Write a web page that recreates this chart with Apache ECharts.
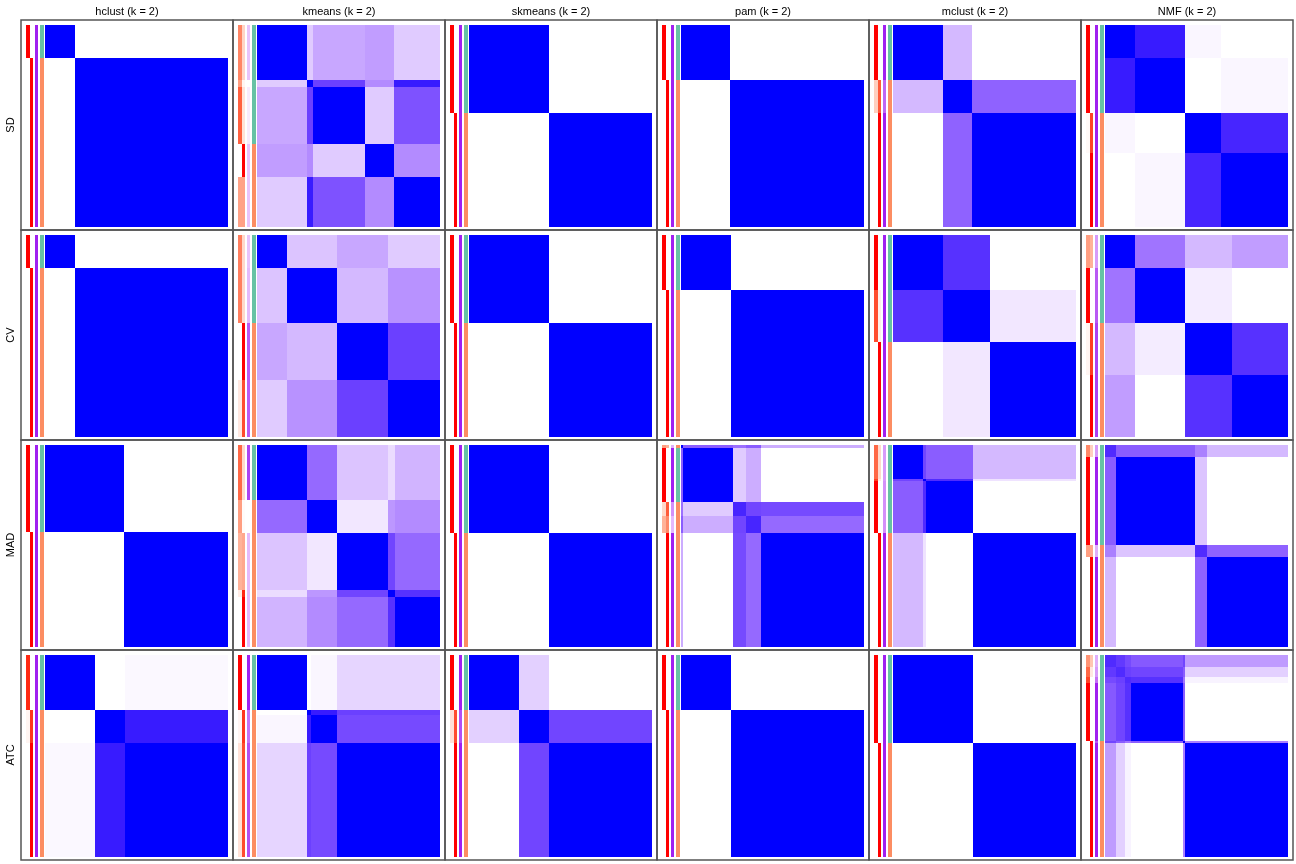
<!DOCTYPE html>
<html>
<head>
<meta charset="utf-8">
<title>consensus heatmaps</title>
<script src="https://cdn.jsdelivr.net/npm/echarts@6/dist/echarts.min.js"></script>
</head>
<body style="margin:0;background:#fff">
<div id="main" style="width:1296px;height:864px;"></div>
<script type="text/javascript">
// column / row headers
var methods = ['hclust', 'kmeans', 'skmeans', 'pam', 'mclust', 'NMF'];
var topValueMethods = ['SD', 'CV', 'MAD', 'ATC'];
var k = 2;

// block boundaries along the ordered samples (0-100), [row][col]
var breaks = [
  [[0, 16.2, 100], [0, 27.2, 30.5, 58.9, 75.1, 100], [0, 43.6, 100], [0, 27, 100], [0, 27.2, 43.4, 100], [0, 16.3, 43.7, 63.3, 100]],
  [[0, 16.3, 100], [0, 16.5, 43.6, 71.6, 100], [0, 43.6, 100], [0, 27.2, 100], [0, 27.3, 53, 100], [0, 16.5, 43.7, 69.4, 100]],
  [[0, 43.2, 100], [0, 27.2, 43.7, 71.8, 75.3, 100], [0, 43.7, 100], [0, 1.3, 28.2, 35.3, 43.5, 100], [0, 16.6, 17.9, 43.7, 100], [0, 5.9, 49.4, 55.5, 100]],
  [[0, 27.2, 43.5, 100], [0, 27.2, 29.5, 43.7, 100], [0, 27.2, 43.7, 100], [0, 27.2, 100], [0, 43.6, 100], [0, 5.9, 10.8, 14, 42.5, 43.7, 100]]
];

// consensus value between blocks
var consensus = [
  [
    [[1, 0], [0, 1]],
    [[1, 0.22, 0.38, 0.42, 0.22], [0.22, 1, 0.82, 0.5, 0.95], [0.38, 0.82, 1, 0.22, 0.75], [0.42, 0.5, 0.22, 1, 0.5], [0.22, 0.95, 0.75, 0.5, 1]],
    [[1, 0], [0, 1]],
    [[1, 0], [0, 1]],
    [[1, 0.3, 0], [0.3, 1, 0.68], [0, 0.68, 1]],
    [[1, 0.95, 0.04, 0], [0.95, 1, 0, 0.04], [0.04, 0, 1, 0.92], [0, 0.04, 0.92, 1]]
  ],
  [
    [[1, 0], [0, 1]],
    [[1, 0.25, 0.38, 0.22], [0.25, 1, 0.3, 0.47], [0.38, 0.3, 1, 0.82], [0.22, 0.47, 0.82, 1]],
    [[1, 0], [0, 1]],
    [[1, 0], [0, 1]],
    [[1, 0.88, 0], [0.88, 1, 0.1], [0, 0.1, 1]],
    [[1, 0.6, 0.3, 0.42], [0.6, 1, 0.08, 0], [0.3, 0.08, 1, 0.88], [0.42, 0, 0.88, 1]]
  ],
  [
    [[1, 0], [0, 1]],
    [[1, 0.65, 0.25, 0.15, 0.32], [0.65, 1, 0.1, 0.45, 0.5], [0.25, 0.1, 1, 0.8, 0.65], [0.15, 0.45, 0.8, 1, 0.88], [0.32, 0.5, 0.65, 0.88, 1]],
    [[1, 0], [0, 1]],
    [[1, 0.7, 0.62, 0.7, 0.35], [0.7, 1, 0.22, 0.35, 0], [0.62, 0.22, 0.92, 0.8, 0.78], [0.7, 0.35, 0.8, 0.92, 0.65], [0.35, 0, 0.78, 0.65, 1]],
    [[1, 0.8, 0.7, 0.3], [0.8, 1, 0.9, 0.12], [0.7, 0.9, 1, 0], [0.3, 0.12, 0, 1]],
    [[0.9, 0.7, 0.55, 0.3], [0.7, 1, 0.25, 0], [0.55, 0.25, 0.9, 0.68], [0.3, 0, 0.68, 1]]
  ],
  [
    [[1, 0, 0.03], [0, 1, 0.95], [0.03, 0.95, 1]],
    [[1, 0, 0.04, 0.18], [0, 1, 0.95, 0.82], [0.04, 0.95, 1, 0.78], [0.18, 0.82, 0.78, 1]],
    [[1, 0.2, 0], [0.2, 1, 0.8], [0, 0.8, 1]],
    [[1, 0], [0, 1]],
    [[1, 0], [0, 1]],
    [[0.9, 0.85, 0.78, 0.72, 0.8, 0.43], [0.85, 0.9, 0.82, 0.8, 0.7, 0.2], [0.78, 0.82, 0.9, 0.88, 0.6, 0.05],
     [0.72, 0.8, 0.88, 1, 0.7, 0], [0.8, 0.7, 0.6, 0.7, 1, 0.55], [0.43, 0.2, 0.05, 0, 0.55, 1]]
  ]
];

// membership probability of class 1 / class 2 per block
var prob1 = [
  [[1, 0], [0.62, 0.5, 0.78, 0, 0.48], [1, 0], [1, 0], [1, 0.25, 0], [1, 1, 0.03, 0]],
  [[1, 0], [0.65, 0.65, 0, 0.12], [1, 0], [1, 0], [1, 0.85, 0], [0.5, 1, 0.05, 0]],
  [[1, 0], [0.75, 0.5, 0.4, 0.1, 0], [1, 0], [0.5, 1, 0.2, 0.4, 0], [0.75, 0.9, 1, 0], [0.6, 1, 0.5, 0]],
  [[0.95, 0.05, 0], [1, 0.05, 0.05, 0.15], [1, 0.15, 0], [1, 0], [1, 0], [0.55, 0.75, 0.88, 1, 0, 0]]
];
var prob2 = [
  [[0, 1], [0.22, 0.05, 0.15, 1, 0.48], [0, 1], [0, 1], [0, 0.8, 1], [0, 0, 0.88, 1]],
  [[0, 1], [0.2, 0.2, 1, 0.85], [0, 1], [0, 1], [0, 0.08, 1], [0.4, 0, 0.9, 1]],
  [[0, 1], [0.2, 0.02, 0.45, 0.95, 1], [0, 1], [0.4, 0, 0.8, 0.6, 1], [0.2, 0.1, 0, 1], [0.25, 0, 0.45, 1]],
  [[0, 0.92, 1], [0, 0.92, 0.92, 0.85], [0, 0.85, 1], [0, 1], [0, 1], [0.3, 0.12, 0, 0, 1, 1]]
];
var silhouette = [
  [[1, 1], [0.3, 0, 0.1, 0.3, 0.3], [1, 1], [1, 1], [1, 0.75, 1], [1, 1, 1, 1]],
  [[1, 1], [0.3, 0.35, 0.8, 0.8], [1, 1], [1, 1], [1, 1, 1], [0.5, 0.8, 0.9, 0.9]],
  [[1, 1], [0.9, 0, 0.35, 0.35, 0.35], [1, 1], [0.4, 1, 0.55, 0.35, 1], [0.5, 0.5, 0.55, 1], [0.5, 1, 0.4, 1]],
  [[1, 1, 1], [1, 0.7, 0.7, 0.85], [1, 0.85, 1], [1, 1], [1, 1], [0.4, 0.5, 0.7, 1, 0.8, 1]]
];
var classes = [
  [[1, 2], [1, 1, 1, 2, 2], [1, 2], [1, 2], [1, 2, 2], [1, 1, 2, 2]],
  [[1, 2], [1, 1, 2, 2], [1, 2], [1, 2], [1, 1, 2], [1, 1, 2, 2]],
  [[1, 2], [1, 2, 2, 2, 2], [1, 2], [2, 1, 2, 2, 2], [1, 1, 1, 2], [1, 1, 2, 2]],
  [[1, 2, 2], [1, 2, 2, 2], [1, 2, 2], [1, 2], [1, 2], [1, 1, 1, 1, 2, 2]]
];

var classColors = ['#66C2A5', '#FC8D62'];

// white -> colour ramps interpolated in LAB space
function toLin(c) { c /= 255; return c <= 0.04045 ? c / 12.92 : Math.pow((c + 0.055) / 1.055, 2.4); }
function toS(c) {
  c = c <= 0.0031308 ? 12.92 * c : 1.055 * Math.pow(c, 1 / 2.4) - 0.055;
  return Math.max(0, Math.min(255, Math.round(c * 255)));
}
function hexToLab(hex) {
  var r = toLin(parseInt(hex.substr(1, 2), 16)), g = toLin(parseInt(hex.substr(3, 2), 16)), b = toLin(parseInt(hex.substr(5, 2), 16));
  var X = (0.4124 * r + 0.3576 * g + 0.1805 * b) / 0.95047;
  var Y = 0.2126 * r + 0.7152 * g + 0.0722 * b;
  var Z = (0.0193 * r + 0.1192 * g + 0.9505 * b) / 1.08883;
  function f(t) { return t > 0.008856 ? Math.cbrt(t) : 7.787 * t + 16 / 116; }
  var fx = f(X), fy = f(Y), fz = f(Z);
  return [116 * fy - 16, 500 * (fx - fy), 200 * (fy - fz)];
}
function labToRgb(L, a, b) {
  var fy = (L + 16) / 116, fx = fy + a / 500, fz = fy - b / 200;
  function finv(t) { var t3 = t * t * t; return t3 > 0.008856 ? t3 : (t - 16 / 116) / 7.787; }
  var X = 0.95047 * finv(fx), Y = finv(fy), Z = 1.08883 * finv(fz);
  var r = 3.2406 * X - 1.5372 * Y - 0.4986 * Z;
  var g = -0.9689 * X + 1.8758 * Y + 0.0415 * Z;
  var bb = 0.0557 * X - 0.2040 * Y + 1.0570 * Z;
  return 'rgb(' + toS(r) + ',' + toS(g) + ',' + toS(bb) + ')';
}
function ramp(hex) {
  var w = hexToLab('#FFFFFF'), c = hexToLab(hex);
  return function (t) {
    t = Math.max(0, Math.min(1, t));
    return labToRgb(w[0] + (c[0] - w[0]) * t, w[1] + (c[1] - w[1]) * t, w[2] + (c[2] - w[2]) * t);
  };
}
var blueCol = ramp('#0000FF');
var redCol = ramp('#FF0000');
var purpleCol = ramp('#A020F0');

// layout
var panelLeft = 21, panelTop = 20, panelW = 212, panelH = 210;
var annoCols = [[0, 4], [4, 7], [9, 12], [14, 18]];

function heatItem(params, api) {
  var p0 = api.coord([api.value(0), api.value(2)]);
  var p1 = api.coord([api.value(1), api.value(3)]);
  var x0 = Math.round(p0[0]), y0 = Math.round(p0[1]);
  return {
    type: 'rect',
    shape: { x: x0, y: y0, width: Math.round(p1[0]) - x0, height: Math.round(p1[1]) - y0 },
    style: { fill: blueCol(api.value(4)) }
  };
}
function annoItem(params, api) {
  var j = api.value(0), v = api.value(3);
  var p0 = api.coord([annoCols[j][0], api.value(1)]);
  var p1 = api.coord([annoCols[j][1], api.value(2)]);
  var fill = j < 2 ? redCol(v) : (j === 2 ? purpleCol(v) : classColors[v - 1]);
  var x0 = Math.round(p0[0]), y0 = Math.round(p0[1]);
  return {
    type: 'rect',
    shape: { x: x0, y: y0, width: Math.round(p1[0]) - x0, height: Math.round(p1[1]) - y0 },
    style: { fill: fill }
  };
}

var grids = [], xAxes = [], yAxes = [], series = [], graphics = [];
for (var r = 0; r < topValueMethods.length; r++) {
  for (var c = 0; c < methods.length; c++) {
    var L = panelLeft + c * panelW, T = panelTop + r * panelH;
    var gi = grids.length;
    grids.push({ left: L + 5, top: T + 5, width: 18, height: 202 });
    grids.push({ left: L + 24, top: T + 5, width: 183, height: 202 });
    xAxes.push({ gridIndex: gi, type: 'value', min: 0, max: 18, show: false });
    xAxes.push({ gridIndex: gi + 1, type: 'value', min: 0, max: 100, show: false });
    yAxes.push({ gridIndex: gi, type: 'value', min: 0, max: 100, inverse: true, show: false });
    yAxes.push({ gridIndex: gi + 1, type: 'value', min: 0, max: 100, inverse: true, show: false });

    var br = breaks[r][c], m = consensus[r][c];
    var heat = [], anno = [];
    for (var i = 0; i < br.length - 1; i++) {
      for (var j = 0; j < br.length - 1; j++) {
        heat.push([br[j], br[j + 1], br[i], br[i + 1], m[i][j]]);
      }
      anno.push([0, br[i], br[i + 1], prob1[r][c][i]]);
      anno.push([1, br[i], br[i + 1], prob2[r][c][i]]);
      anno.push([2, br[i], br[i + 1], silhouette[r][c][i]]);
      anno.push([3, br[i], br[i + 1], classes[r][c][i]]);
    }
    series.push({
      type: 'custom', xAxisIndex: gi, yAxisIndex: gi, silent: true,
      renderItem: annoItem, encode: { x: 0, y: [1, 2] }, data: anno
    });
    series.push({
      type: 'custom', xAxisIndex: gi + 1, yAxisIndex: gi + 1, silent: true,
      renderItem: heatItem, encode: { x: [0, 1], y: [2, 3] }, data: heat
    });
    graphics.push({
      type: 'rect', silent: true, z: 100,
      shape: { x: L, y: T, width: panelW, height: panelH },
      style: { fill: null, stroke: '#555', lineWidth: 1.5 }
    });
  }
}
methods.forEach(function (m, c) {
  graphics.push({
    type: 'text', x: panelLeft + c * panelW + panelW / 2, y: 12, silent: true,
    style: { text: m + ' (k = ' + k + ')', fontSize: 11, fontFamily: 'Liberation Sans', fill: '#000', align: 'center', verticalAlign: 'middle' }
  });
});
topValueMethods.forEach(function (t, r) {
  graphics.push({
    type: 'text', x: 11, y: panelTop + r * panelH + panelH / 2, rotation: Math.PI / 2, silent: true,
    style: { text: t, fontSize: 11, fontFamily: 'Liberation Sans', fill: '#000', align: 'center', verticalAlign: 'middle' }
  });
});

var myChart = echarts.init(document.getElementById('main'));
myChart.setOption({
  animation: false,
  backgroundColor: '#fff',
  grid: grids,
  xAxis: xAxes,
  yAxis: yAxes,
  series: series,
  graphic: graphics
});
</script>
</body>
</html>
